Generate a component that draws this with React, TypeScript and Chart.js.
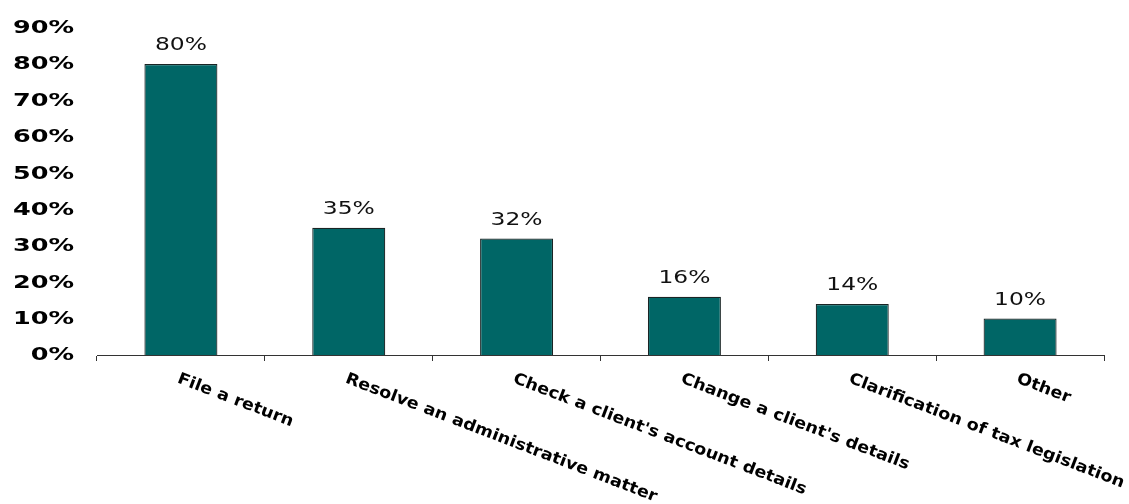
import React, { useEffect, useRef } from "react";
import { Chart, registerables } from "chart.js";

Chart.register(...registerables);

const categories = [
  "File a return",
  "Resolve an administrative matter",
  "Check a client's account details",
  "Change a client's details",
  "Clarification of tax legislation",
  "Other",
];
const values = [80, 35, 32, 16, 14, 10];
const yTicks = [0, 10, 20, 30, 40, 50, 60, 70, 80, 90];

const FONT = "'DejaVu Sans', Verdana, sans-serif";

const textPlugin = {
  id: "customText",
  afterDraw(chart: any) {
    const ctx = chart.ctx;
    const yScale = chart.scales.y;
    const xScale = chart.scales.x;
    const meta = chart.getDatasetMeta(0);

    // y tick labels
    ctx.save();
    ctx.fillStyle = "#000";
    ctx.font = `bold 17px ${FONT}`;
    ctx.textAlign = "right";
    ctx.textBaseline = "middle";
    yTicks.forEach((t) => {
      const y = yScale.getPixelForValue(t) + 1;
      ctx.save();
      ctx.translate(74, y);
      ctx.scale(1.5, 1);
      ctx.fillText(t + "%", 0, 0);
      ctx.restore();
    });
    ctx.restore();

    // data labels
    ctx.save();
    ctx.fillStyle = "#111";
    ctx.font = `18px ${FONT}`;
    ctx.textAlign = "center";
    ctx.textBaseline = "alphabetic";
    meta.data.forEach((bar: any, i: number) => {
      ctx.save();
      ctx.translate(bar.x, bar.y - 14);
      ctx.scale(1.3, 1);
      ctx.fillText(values[i] + "%", 0, 0);
      ctx.restore();
    });
    ctx.restore();

    // x category labels (rotated clockwise)
    ctx.save();
    ctx.fillStyle = "#000";
    ctx.font = `bold 16px ${FONT}`;
    ctx.textAlign = "left";
    ctx.textBaseline = "top";
    const base = xScale.top;
    categories.forEach((c, i) => {
      const x = xScale.getPixelForValue(i);
      ctx.save();
      ctx.translate(x, base + 16);
      ctx.rotate((21 * Math.PI) / 180);
      ctx.scale(1.1, 1);
      ctx.fillText(c, 0, 0);
      ctx.restore();
    });
    ctx.restore();
  },
};

export default function App() {
  const ref = useRef<HTMLCanvasElement | null>(null);
  useEffect(() => {
    if (!ref.current) return;
    const chart = new Chart(ref.current, {
      type: "bar",
      data: {
        labels: categories,
        datasets: [
          {
            data: values,
            backgroundColor: "#006666",
            borderColor: "#1a2424",
            borderWidth: 1.2,
            barPercentage: 0.435,
            categoryPercentage: 1,
          },
        ],
      },
      options: {
        animation: false,
        responsive: true,
        maintainAspectRatio: false,
        layout: { padding: { top: 27.6, right: 25, left: 0, bottom: 0 } },
        plugins: {
          legend: { display: false },
          tooltip: { enabled: false },
        },
        scales: {
          x: {
            offset: true,
            grid: {
              display: true,
              offset: true,
              drawOnChartArea: false,
              drawTicks: true,
              tickLength: 6,
              color: "#333",
            },
            border: { display: true, color: "#333", width: 1 },
            ticks: { display: false },
            afterFit: (s: any) => {
              s.height = 149;
            },
          },
          y: {
            min: 0,
            max: 90,
            ticks: { display: false, stepSize: 10 },
            grid: { display: false },
            border: { display: false },
            afterFit: (s: any) => {
              s.width = 97;
            },
          },
        },
      },
      plugins: [textPlugin],
    });
    return () => chart.destroy();
  }, []);
  return (
    <div style={{ position: "absolute", left: 0, top: 0, width: 1129, height: 504 }}>
      <canvas ref={ref} />
    </div>
  );
}
